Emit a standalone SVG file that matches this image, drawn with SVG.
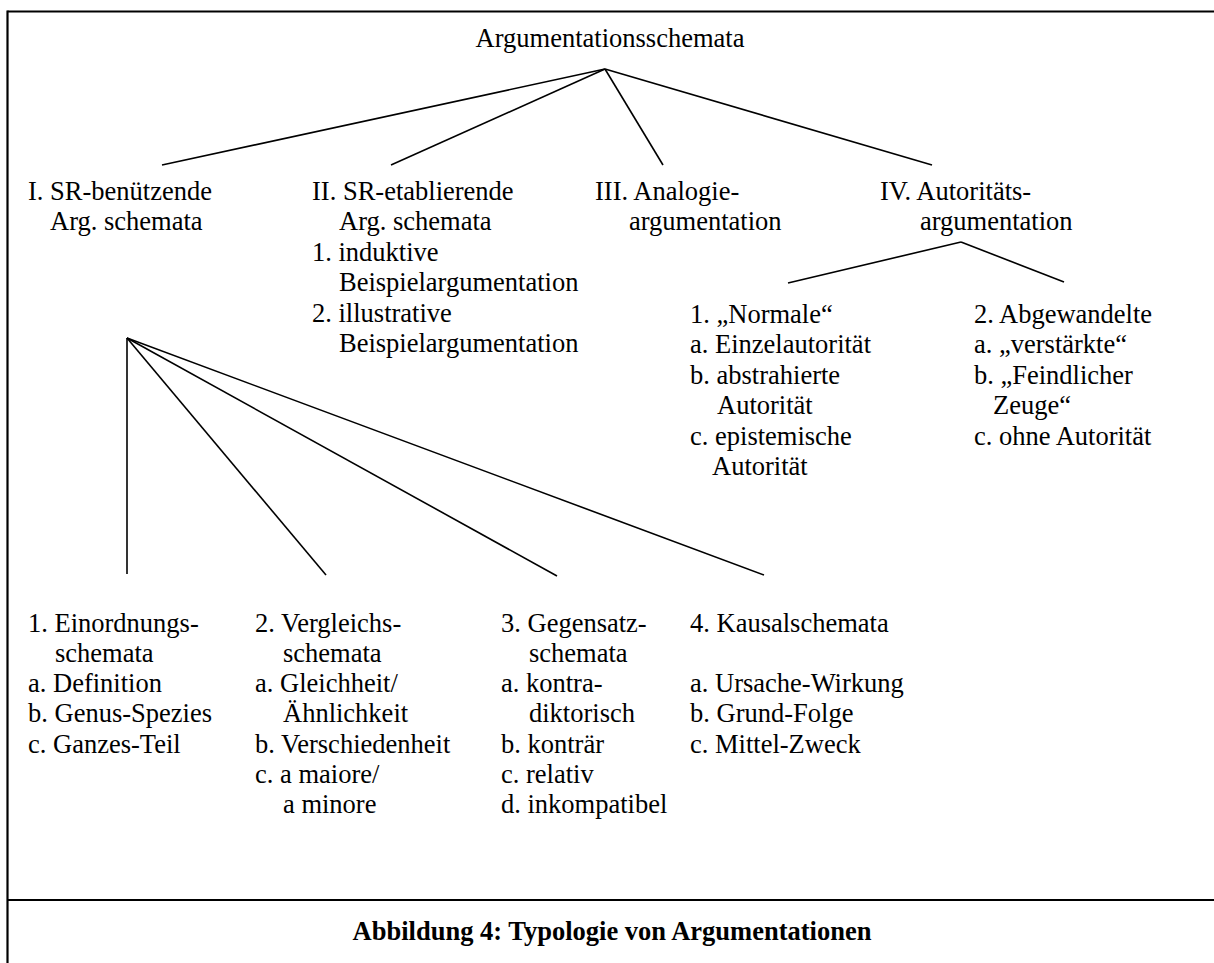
<svg xmlns="http://www.w3.org/2000/svg" width="1214" height="963" viewBox="0 0 1214 963">
<style>
text{font-family:"Liberation Serif","Times New Roman",serif;font-size:26.5px;fill:#000}
.cap{font-weight:bold}
.ln{stroke:#000;stroke-width:1.6;fill:none}
.frame{stroke:#000;stroke-width:2.2;fill:none}
</style>
<rect width="1214" height="963" fill="#fff"/>
<g id="frame">
<line class="frame" x1="7.5" y1="11.5" x2="1214" y2="11.5"/>
<line class="frame" x1="7.5" y1="10.5" x2="7.5" y2="963"/>
<line class="frame" x1="7.5" y1="900" x2="1214" y2="900"/>
</g>
<g id="connectors">
<line class="ln" x1="605" y1="69" x2="162" y2="165"/>
<line class="ln" x1="605" y1="69" x2="391" y2="165"/>
<line class="ln" x1="605" y1="69" x2="663" y2="165"/>
<line class="ln" x1="605" y1="69" x2="932" y2="165"/>
<line class="ln" x1="961" y1="242" x2="788" y2="283"/>
<line class="ln" x1="961" y1="242" x2="1064" y2="282"/>
<line class="ln" x1="127" y1="338" x2="127" y2="574"/>
<line class="ln" x1="127" y1="338" x2="326" y2="575"/>
<line class="ln" x1="127" y1="338" x2="557" y2="576"/>
<line class="ln" x1="127" y1="338" x2="764" y2="575"/>
</g>
<g id="root"><text x="610" y="47" text-anchor="middle">Argumentationsschemata</text></g>
<g id="n1"><text><tspan x="28" y="200">I. SR-benützende</tspan><tspan x="50" y="230">Arg. schemata</tspan></text></g>
<g id="n2"><text><tspan x="312" y="200">II. SR-etablierende</tspan><tspan x="339" y="230">Arg. schemata</tspan><tspan x="312" y="261">1. induktive</tspan><tspan x="339" y="291">Beispielargumentation</tspan><tspan x="312" y="322">2. illustrative</tspan><tspan x="339" y="352">Beispielargumentation</tspan></text></g>
<g id="n3"><text><tspan x="595" y="200">III. Analogie-</tspan><tspan x="629" y="230">argumentation</tspan></text></g>
<g id="n4"><text><tspan x="880" y="200">IV. Autoritäts-</tspan><tspan x="920" y="230">argumentation</tspan></text></g>
<g id="n4-1"><text><tspan x="690" y="323">1. „Normale“</tspan><tspan x="690" y="353">a. Einzelautorität</tspan><tspan x="690" y="384">b. abstrahierte</tspan><tspan x="717" y="414">Autorität</tspan><tspan x="690" y="445">c. epistemische</tspan><tspan x="712" y="475">Autorität</tspan></text></g>
<g id="n4-2"><text><tspan x="974" y="323">2. Abgewandelte</tspan><tspan x="974" y="353">a. „verstärkte“</tspan><tspan x="974" y="384">b. „Feindlicher</tspan><tspan x="993" y="414">Zeuge“</tspan><tspan x="974" y="445">c. ohne Autorität</tspan></text></g>
<g id="n1-1"><text><tspan x="28" y="632">1. Einordnungs-</tspan><tspan x="55" y="662">schemata</tspan><tspan x="28" y="692">a. Definition</tspan><tspan x="28" y="722">b. Genus-Spezies</tspan><tspan x="28" y="753">c. Ganzes-Teil</tspan></text></g>
<g id="n1-2"><text><tspan x="255" y="632">2. Vergleichs-</tspan><tspan x="283" y="662">schemata</tspan><tspan x="255" y="692">a. Gleichheit/</tspan><tspan x="283" y="722">Ähnlichkeit</tspan><tspan x="255" y="753">b. Verschiedenheit</tspan><tspan x="255" y="783">c. a maiore/</tspan><tspan x="283" y="813">a minore</tspan></text></g>
<g id="n1-3"><text><tspan x="501" y="632">3. Gegensatz-</tspan><tspan x="529" y="662">schemata</tspan><tspan x="501" y="692">a. kontra-</tspan><tspan x="529" y="722">diktorisch</tspan><tspan x="501" y="753">b. konträr</tspan><tspan x="501" y="783">c. relativ</tspan><tspan x="501" y="813">d. inkompatibel</tspan></text></g>
<g id="n1-4"><text><tspan x="690" y="632">4. Kausalschemata</tspan><tspan x="690" y="692">a. Ursache-Wirkung</tspan><tspan x="690" y="722">b. Grund-Folge</tspan><tspan x="690" y="753">c. Mittel-Zweck</tspan></text></g>
<g id="caption"><text class="cap" x="612" y="940" text-anchor="middle">Abbildung 4: Typologie von Argumentationen</text></g>
</svg>
